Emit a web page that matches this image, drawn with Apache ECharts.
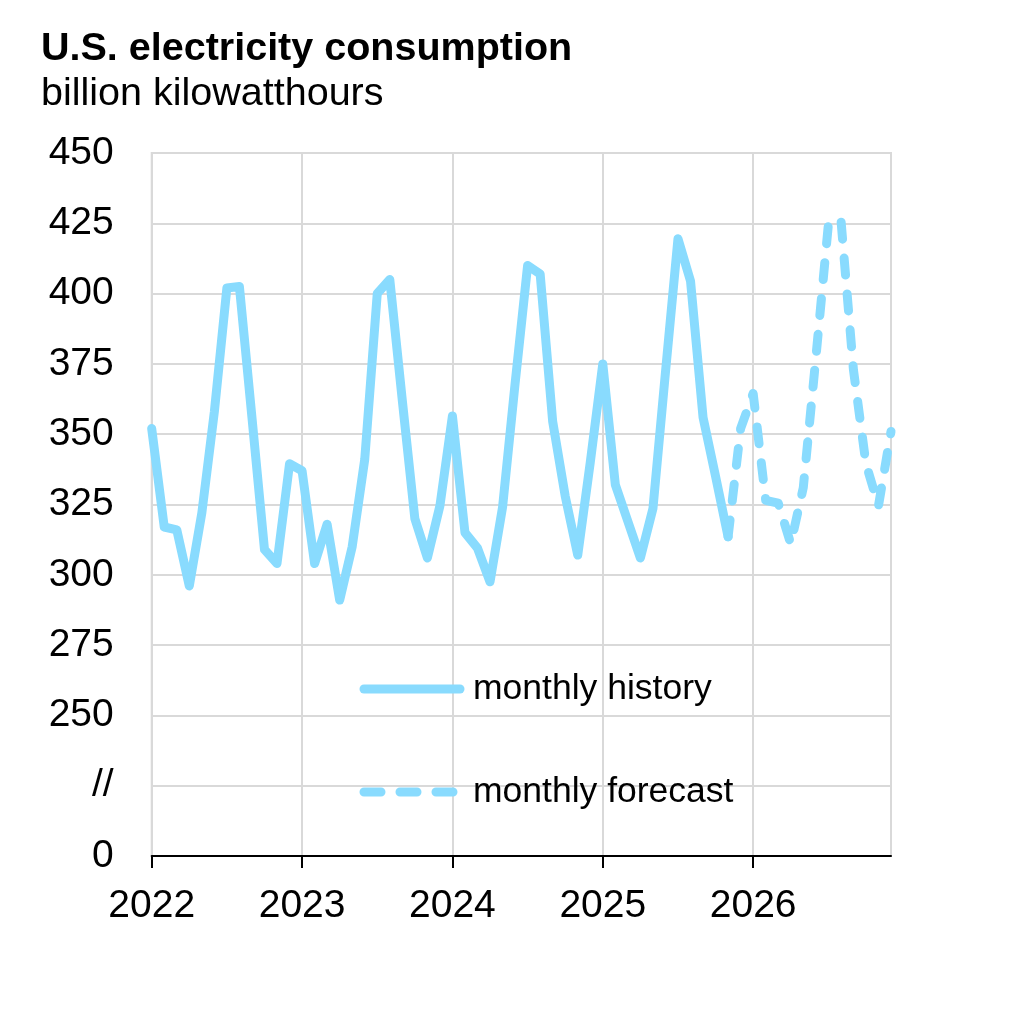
<!DOCTYPE html>
<html>
<head>
<meta charset="utf-8">
<script src="https://cdn.jsdelivr.net/npm/echarts@6/dist/echarts.min.js"></script>
<style>
  html, body { margin: 0; padding: 0; background: #ffffff; }
  #chart { width: 1012px; height: 1024px; }
</style>
</head>
<body>
<div id="chart"></div>
<script>
// ---- data ----
const years = [2022, 2023, 2024, 2025, 2026];
const monthsPerYear = 12;
// monthly history, Jan 2022 – Nov 2025 (billion kWh)
const historyValues = [
  352, 317, 316, 296, 322, 358, 402, 402.5, 356, 309, 304, 339.5,
  337, 304, 318, 291, 310, 341, 400, 405, 362, 320, 306, 324.5,
  356.5, 315, 309.5, 297.5, 324, 368, 410, 407, 354.5, 328, 307, 340,
  375, 332, 319, 306, 323.5, 372, 419.5, 404.5, 356, 335, 313.5
];
// monthly forecast, Nov 2025 – Dec 2026
const forecastStartIndex = 46;
const forecastValues = [
  313.5, 352, 364.5, 326.5, 325.5, 311, 331, 377, 424.5, 426.5, 373, 339.5, 324.5, 351
];
const yTickLabels = {200: '0', 225: '//'};
const seriesNames = ['monthly history', 'monthly forecast'];

// ---- build ----
const categories = [];
years.forEach(y => { for (let m = 1; m <= monthsPerYear; m++) categories.push(y + '-' + m); });
const total = categories.length;
const historyData = historyValues.concat(new Array(total - historyValues.length).fill(null));
const forecastData = new Array(forecastStartIndex).fill(null).concat(forecastValues);

const lineColor = '#89dbfe';
const fontFamily = 'Liberation Sans, Arial, Helvetica, sans-serif';

const chart = echarts.init(document.getElementById('chart'), null, {renderer: 'canvas'});
chart.setOption({
  animation: false,
  backgroundColor: '#ffffff',
  title: {
    text: 'U.S. electricity consumption',
    subtext: 'billion kilowatthours',
    left: 36,
    top: 24,
    itemGap: 5,
    textStyle: { fontFamily, fontSize: 39.5, fontWeight: 'bold', color: '#000' },
    subtextStyle: { fontFamily, fontSize: 39.5, color: '#000' }
  },
  legend: {
    orient: 'vertical',
    left: 354.5,
    top: 666,
    itemWidth: 96,
    itemHeight: 10,
    itemGap: 67,
    lineStyle: { width: 9, cap: 'round' },
    itemStyle: { color: 'rgba(0,0,0,0)', borderWidth: 0 },
    textStyle: { fontFamily, fontSize: 35.5, color: '#000', padding: [0, 0, 0, 8] },
    data: seriesNames
  },
  grid: {
    left: 151.7,
    right: 121,
    top: 153,
    bottom: 168,
    show: true,
    borderColor: '#d9d9d9',
    borderWidth: 2,
    containLabel: false
  },
  xAxis: {
    type: 'category',
    data: categories,
    boundaryGap: false,
    axisLine: { show: true, lineStyle: { color: '#000', width: 2 } },
    axisTick: { show: true, interval: 11, length: 12, lineStyle: { color: '#000', width: 2 } },
    axisLabel: {
      interval: 11,
      margin: 31,
      fontFamily, fontSize: 39, color: '#000',
      formatter: v => v.split('-')[0]
    },
    splitLine: { show: true, interval: 11, lineStyle: { color: '#d9d9d9', width: 2 } }
  },
  yAxis: {
    type: 'value',
    min: 200,
    max: 450,
    interval: 25,
    axisLine: { show: false },
    axisTick: { show: false },
    axisLabel: {
      margin: 38,
      fontFamily, fontSize: 39, color: '#000',
      formatter: v => (yTickLabels[v] !== undefined ? yTickLabels[v] : String(v))
    },
    splitLine: { show: true, lineStyle: { color: '#d9d9d9', width: 2 } }
  },
  series: [
    {
      name: seriesNames[0],
      type: 'line',
      data: historyData,
      symbol: 'none',
      connectNulls: false,
      itemStyle: { color: lineColor },
      lineStyle: { color: lineColor, width: 9, join: 'round', cap: 'round' },
      z: 3
    },
    {
      name: seriesNames[1],
      type: 'line',
      data: forecastData,
      symbol: 'none',
      connectNulls: false,
      itemStyle: { color: lineColor },
      lineStyle: { color: lineColor, width: 9, type: [17, 19], join: 'round', cap: 'round' },
      z: 3
    }
  ]
});
</script>
</body>
</html>
